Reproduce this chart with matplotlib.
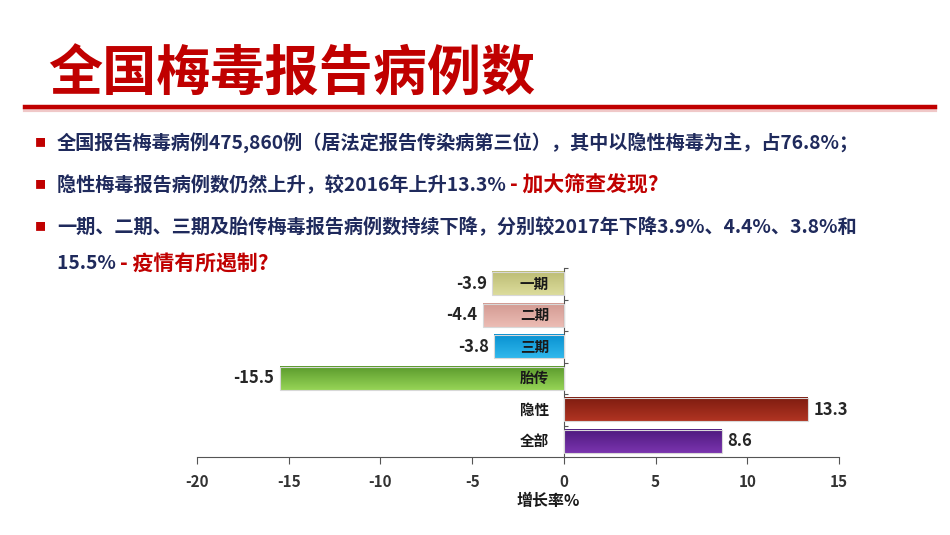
import matplotlib.pyplot as plt
import matplotlib.colors as mcolors
import numpy as np

plt.rcParams['font.family'] = ['Noto Sans CJK SC', 'DejaVu Sans']

# data
categories = ['一期', '二期', '三期', '胎传', '隐性', '全部']
growth = [-3.9, -4.4, -3.8, -15.5, 13.3, 8.6]
# top / bottom colours of each bar gradient
bar_top = ['#bcbc74', '#d29a92', '#0890d0', '#5a9a2c', '#7e1c10', '#4e1a7e']
bar_bottom = ['#dcdc9c', '#ecbcb4', '#30b8ec', '#96d456', '#b03422', '#7a34ae']
xticks = [-20, -15, -10, -5, 0, 5, 10, 15]

title = '全国梅毒报告病例数'
bullets = [
    [('全国报告梅毒病例475,860例（居法定报告传染病第三位），其中以隐性梅毒为主，占76.8%；', False)],
    [('隐性梅毒报告病例数仍然上升，较2016年上升13.3% ', False), ('- 加大筛查发现?', True)],
    [('一期、二期、三期及胎传梅毒报告病例数持续下降，分别较2017年下降3.9%、4.4%、3.8%和', False)],
    [('15.5% ', False), ('- 疫情有所遏制?', True)],
]

navy = '#1f2a5c'
red = '#c00000'

fig = plt.figure(figsize=(9.5, 5.35), dpi=100)

# title and the red rule under it
fig.text(48 / 950, 1 - 75 / 535, title, fontsize=39, fontweight='bold',
         color=red, va='center', ha='left')
fig.add_artist(plt.Line2D([25 / 950, 935 / 950], [1 - 109.5 / 535, 1 - 109.5 / 535],
                          color='#f0c8c8', lw=3, transform=fig.transFigure))
fig.add_artist(plt.Line2D([25 / 950, 935 / 950], [1 - 107 / 535, 1 - 107 / 535],
                          color=red, lw=3.2, transform=fig.transFigure))

# bullet lines (segments get placed side by side further down)
line_y = [143, 185, 227, 264]
segments = []
for i, (y, parts) in enumerate(zip(line_y, bullets)):
    yf = 1 - y / 535
    if i < 3:
        fig.text(40 / 950, yf, '■', fontsize=8, color=red, va='center', ha='center')
    row = []
    for s, emph in parts:
        if emph:
            t = fig.text(57 / 950, yf, s, ha='left', va='center', fontsize=15,
                         fontweight='bold', style='italic', color=red)
        else:
            t = fig.text(57 / 950, yf, s, ha='left', va='center', fontsize=13.8,
                         fontweight='bold', color=navy)
        row.append(t)
    segments.append(row)

# chart
ax = fig.add_axes([197 / 950, 1 - 457 / 535, 642 / 950, 189 / 535])
h = 0.74
for yi, (cat, v, c0, c1) in enumerate(zip(categories, growth, bar_top, bar_bottom)):
    cmap = mcolors.LinearSegmentedColormap.from_list('g', [c0, c1])
    grad = np.linspace(0, 1, 64).reshape(-1, 1)
    ax.imshow(grad, cmap=cmap, extent=[min(0, v), max(0, v), yi + h / 2, yi - h / 2],
              aspect='auto', origin='upper', zorder=2, interpolation='bilinear')
    ax.add_patch(plt.Rectangle((min(0, v), yi - h / 2), abs(v), h, fill=False,
                               edgecolor='#d8d8d8', lw=0.8, zorder=3))
    if v < 0:
        ax.text(v - 0.3, yi, f'{v:g}', ha='right', va='center', fontsize=12,
                fontweight='bold', color='#262626')
    else:
        ax.text(v + 0.3, yi, f'{v:g}', ha='left', va='center', fontsize=12,
                fontweight='bold', color='#262626')
    ax.text(-0.8, yi, cat, ha='right', va='center',
            fontsize=10.5, fontweight='bold', color='#1a1a1a', zorder=4)

ax.set_xlim(-20, 15)
ax.set_ylim(5.5, -0.5)
ax.set_xticks(xticks)
ax.set_xticklabels([str(x) for x in xticks], fontsize=11, fontweight='bold', color='#333333')
ax.tick_params(axis='x', direction='out', length=5, color='#555555', pad=7)
for s in ['top', 'right']:
    ax.spines[s].set_visible(False)
ax.spines['bottom'].set_color('#555555')
ax.spines['left'].set_position(('data', 0))
ax.spines['left'].set_color('#555555')
ax.set_yticks(np.arange(-0.5, 5.0, 1.0))
ax.set_yticklabels([])
ax.tick_params(axis='y', direction='in', length=3, color='#555555')
fig.text(548 / 950, 1 - 501 / 535, '增长率%', ha='center', va='center',
         fontsize=11.5, fontweight='bold', color='#1a1a1a')

# put each bullet's segments one after the other
fig.canvas.draw()
renderer = fig.canvas.get_renderer()
for row in segments:
    for prev, t in zip(row[:-1], row[1:]):
        bb = prev.get_window_extent(renderer)
        t.set_x(bb.x1 / fig.bbox.width)

fig.savefig('out.png', dpi=100)
